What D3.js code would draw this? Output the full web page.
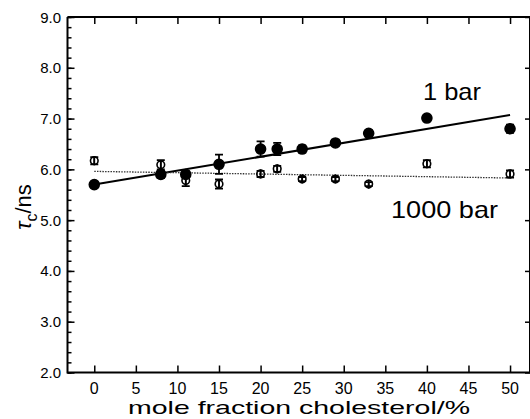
<!DOCTYPE html>
<html><head><meta charset="utf-8">
<script src="https://cdn.jsdelivr.net/npm/d3@7"></script>
<style>body{margin:0;background:#fff}svg{display:block}text{font-family:"Liberation Sans",Arial,sans-serif;fill:#000}</style>
</head><body><svg id="c" width="530" height="419"></svg>
<script>
const xCats = [0, 8, 11, 15, 20, 22, 25, 29, 33, 40, 50];
const bar1 = [5.70, 5.90, 5.90, 6.10, 6.40, 6.40, 6.40, 6.52, 6.71, 7.01, 6.80];
const bar1Err = [0.05, 0.07, 0.06, 0.19, 0.15, 0.12, 0.07, 0.04, 0.05, 0.03, 0.08];
const bar1000 = [6.17, 6.09, 5.78, 5.71, 5.91, 6.01, 5.81, 5.81, 5.71, 6.11, 5.91];
const bar1000Err = [0.07, 0.09, 0.11, 0.09, 0.06, 0.06, 0.04, 0.04, 0.04, 0.07, 0.07];
const fit1 = [[0, 5.70], [50, 7.07]];
const fit1000 = [[0, 5.96], [50, 5.83]];
const xTicks = [0, 5, 10, 15, 20, 25, 30, 35, 40, 45, 50];
const yTicks = [2, 3, 4, 5, 6, 7, 8, 9];

const svg = d3.select("#c");
const x = d3.scaleLinear().domain([-3.22, 52.52]).range([67.5, 531]);
const y = d3.scaleLinear().domain([2, 9]).range([372.5, 17]);
const L = 67.5, R = 531, T = 17, B = 372.5;

// frame
svg.append("path").attr("d", `M${L},${T}H${R}M${L},${T}V${B}H${R}M${R-1},${T}V${B}`)
  .attr("fill","none").attr("stroke","#000").attr("stroke-width",2);

// left axis
const minor = d3.range(2, 9.001, 0.2);
const gl = svg.append("g").attr("transform",`translate(${L},0)`);
gl.call(d3.axisRight(y).tickValues(minor).tickSize(4).tickFormat(""));
gl.call(g=>g.select(".domain").remove());
gl.selectAll("line").attr("stroke-width",1.5);
const gl2 = svg.append("g").attr("transform",`translate(${L},0)`);
gl2.call(d3.axisRight(y).tickValues(yTicks).tickSize(7).tickFormat(""));
gl2.call(g=>g.select(".domain").remove());
gl2.selectAll("line").attr("stroke-width",1.5);
svg.append("g").selectAll("text").data(yTicks).join("text")
  .attr("x", 61).attr("y", d=>y(d)+5.5).attr("text-anchor","end")
  .style("font-size","15px").text(d=>d.toFixed(1));

// right axis ticks
const gr = svg.append("g").attr("transform",`translate(${R-1},0)`);
gr.call(d3.axisLeft(y).tickValues(yTicks).tickSize(5).tickFormat(""));
gr.call(g=>g.select(".domain").remove());
gr.selectAll("line").attr("stroke-width",1.5);

// bottom axis
const gb = svg.append("g").attr("transform",`translate(0,${B})`);
gb.call(d3.axisTop(x).tickValues(xTicks).tickSize(7).tickFormat(""));
gb.call(g=>g.select(".domain").remove());
gb.selectAll("line").attr("stroke-width",1.5);
svg.append("g").selectAll("text").data(xTicks).join("text")
  .attr("x", d=>x(d)).attr("y", 394).attr("text-anchor","middle")
  .style("font-size","16px").text(d=>d);

// top ticks
const gt = svg.append("g").attr("transform",`translate(0,${T})`);
gt.call(d3.axisBottom(x).tickValues(xTicks).tickSize(7).tickFormat(""));
gt.call(g=>g.select(".domain").remove());
gt.selectAll("line").attr("stroke-width",1.5);

// axis titles
svg.append("text").attr("x", 299).attr("y", 414).attr("text-anchor","middle")
  .attr("textLength", 342).attr("lengthAdjust","spacingAndGlyphs")
  .style("font-size","19px").text("mole fraction cholesterol/%");
const yt = svg.append("text").attr("transform","translate(31,207) rotate(-90)")
  .attr("text-anchor","middle").style("font-size","22px");
yt.append("tspan").style("font-style","italic").text("τ");
yt.append("tspan").attr("dy",6).style("font-size","16px").text("c");
yt.append("tspan").attr("dy",-6).text("/ns");

// fit lines
const line = d3.line().x(d=>x(d[0])).y(d=>y(d[1]));
svg.append("path").attr("d", line(fit1)).attr("fill","none").attr("stroke","#000").attr("stroke-width",2);
svg.append("path").attr("d", line(fit1000)).attr("fill","none").attr("stroke","#333")
  .attr("stroke-width",1.3).attr("stroke-dasharray","1.5,1.2");

// error bars + markers
function series(vals, errs, filled) {
  const g = svg.append("g");
  const d = xCats.map((c,i)=>({c, v:vals[i], e:errs[i]}));
  g.selectAll(".eb").data(d).join("path")
    .attr("d", p=>{const cx=x(p.c), y1=y(p.v+p.e), y2=y(p.v-p.e);
      return `M${cx},${y1}V${y2}M${cx-4},${y1}H${cx+4}M${cx-4},${y2}H${cx+4}`;})
    .attr("stroke","#000").attr("stroke-width",1.8).attr("fill","none");
  g.selectAll("circle").data(d).join("circle")
    .attr("cx", p=>x(p.c)).attr("cy", p=>y(p.v)).attr("r", filled?5:3.8)
    .attr("fill", filled?"#000":"none").attr("stroke","#000").attr("stroke-width",1.6);
  if (!filled) g.selectAll(".vl").data(d).join("path")
    .attr("d", p=>`M${x(p.c)},${y(p.v)-4.5}V${y(p.v)+4.5}`).attr("stroke","#000").attr("stroke-width",1.5);
}
series(bar1000, bar1000Err, false);
series(bar1, bar1Err, true);

// labels
svg.append("text").attr("x", 423).attr("y", 100).attr("textLength",58).attr("lengthAdjust","spacingAndGlyphs")
  .style("font-size","24px").text("1 bar");
svg.append("text").attr("x", 391).attr("y", 218).attr("textLength",107).attr("lengthAdjust","spacingAndGlyphs")
  .style("font-size","24px").text("1000 bar");
</script></body></html>
